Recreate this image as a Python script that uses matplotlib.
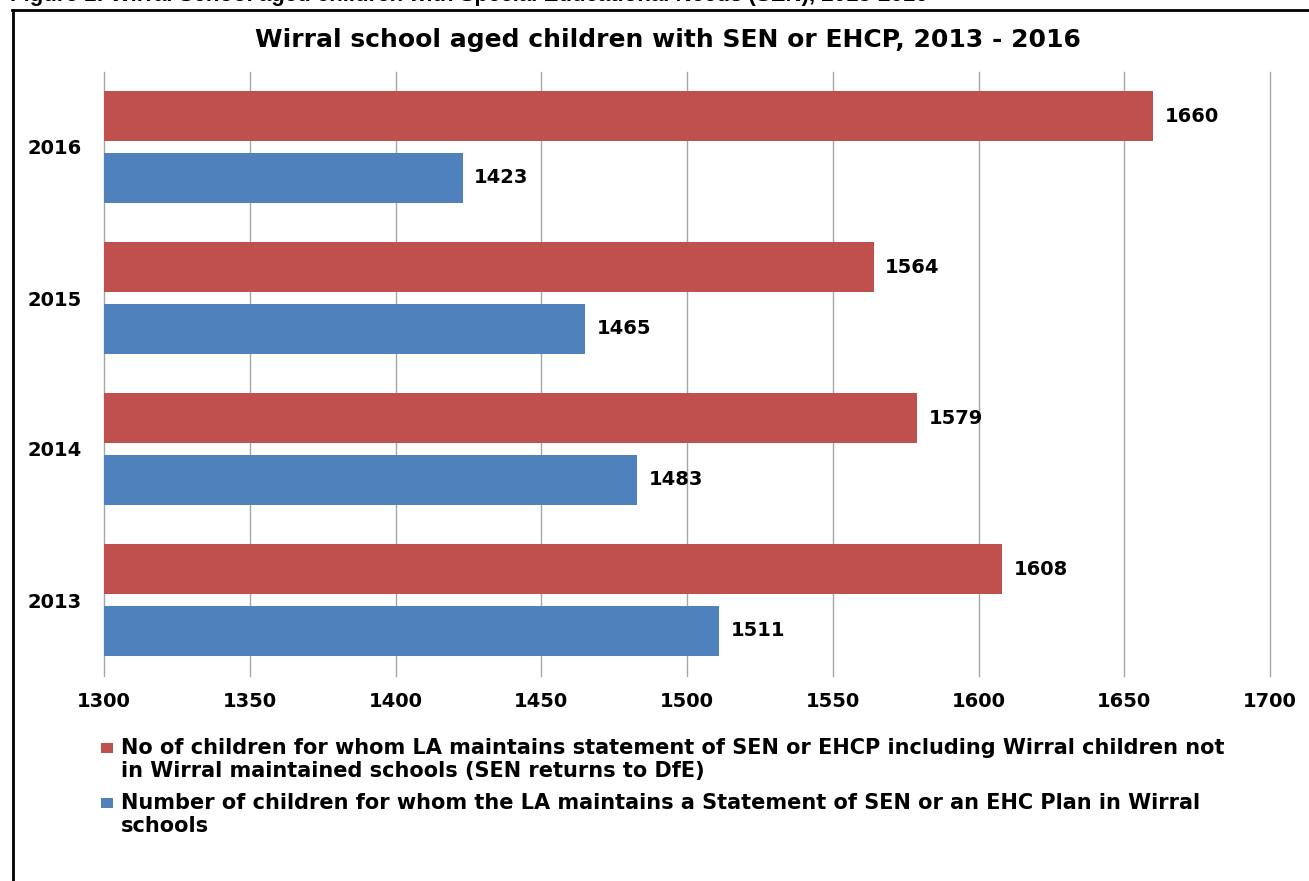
import matplotlib
matplotlib.use("Agg")
import matplotlib.pyplot as plt
from matplotlib.patches import Rectangle
from matplotlib.lines import Line2D
import numpy as np

plt.rcParams['font.family'] = ['DejaVu Sans']

years = ["2013", "2014", "2015", "2016"]
sen_all = [1608, 1579, 1564, 1660]      # incl. children outside Wirral maintained schools
sen_wirral = [1511, 1483, 1465, 1423]   # in Wirral schools
x_ticks = [1300, 1350, 1400, 1450, 1500, 1550, 1600, 1650, 1700]
label_all = ["No of children for whom LA maintains statement of SEN or EHCP including Wirral children not",
             "in Wirral maintained schools (SEN returns to DfE)"]
label_wirral = ["Number of children for whom the LA maintains a Statement of SEN or an EHC Plan in Wirral",
                "schools"]
title = "Wirral school aged children with SEN or EHCP, 2013 - 2016"
caption = "Figure 1: Wirral School aged children with Special Educational Needs (SEN), 2013-2016"

RED = "#C0504D"
BLUE = "#4F81BD"

W, H = 1309, 881
fig = plt.figure(figsize=(W / 100, H / 100), dpi=100)


def fx(px):
    return px / W


def fy(py):
    return 1 - py / H


# axes placement in pixels
left, right, top, bottom = 104, 1270, 71.5, 675.5
ax = fig.add_axes([fx(left), fy(bottom), (right - left) / W, (bottom - top) / H])

y = np.arange(len(years))
bh = 0.33
off = 0.205
base = x_ticks[0]
ax.barh(y + off, np.array(sen_all) - base, left=base, height=bh, color=RED, zorder=3)
ax.barh(y - off, np.array(sen_wirral) - base, left=base, height=bh, color=BLUE, zorder=3)

for yi, v in zip(y, sen_all):
    ax.text(v + 4, yi + off, str(v), va="center", ha="left", fontsize=14, fontweight="bold")
for yi, v in zip(y, sen_wirral):
    ax.text(v + 4, yi - off, str(v), va="center", ha="left", fontsize=14, fontweight="bold")

ax.set_xlim(x_ticks[0], x_ticks[-1])
ax.set_ylim(-0.5, len(years) - 0.5)
ax.set_xticks(x_ticks)
ax.set_xticklabels([str(t) for t in x_ticks], fontsize=14, fontweight="bold")
ax.set_yticks(y)
ax.set_yticklabels(years, fontsize=14, fontweight="bold")
ax.tick_params(axis="x", length=0, pad=12)
ax.tick_params(axis="y", length=0, pad=16)
ax.grid(axis="x", color="#A6A6A6", linewidth=1.0, zorder=0)
for gl in ax.get_xgridlines():
    gl.set_clip_on(False)
for s in ax.spines.values():
    s.set_visible(False)

fig.text(fx(668), fy(40), title, ha="center", va="center", fontsize=18, fontweight="bold")

# legend: colour key aligned with the first line of each wrapped label
legend_rows = [(RED, label_all, 748), (BLUE, label_wirral, 803)]
for color, lines, y0 in legend_rows:
    fig.add_artist(Rectangle((fx(101), fy(y0 + 5)), 12 / W, 10 / H,
                             transform=fig.transFigure, facecolor=color, edgecolor="none"))
    for i, line in enumerate(lines):
        fig.text(fx(121), fy(y0 + 23.5 * i), line, ha="left", va="center",
                 fontsize=15, fontweight="bold")

# outer frame (clipped at the right and bottom edges)
fig.add_artist(Line2D([fx(13), fx(13)], [0, fy(10)], transform=fig.transFigure,
                      color="black", linewidth=2))
fig.add_artist(Line2D([fx(12), 1], [fy(10), fy(10)], transform=fig.transFigure,
                      color="black", linewidth=2))

# caption above the frame, only partly within the canvas
fig.text(fx(10), fy(-4), caption, ha="left", va="center", fontsize=16,
         family="Liberation Sans", fontweight="bold")

fig.savefig("out.png", dpi=100)
